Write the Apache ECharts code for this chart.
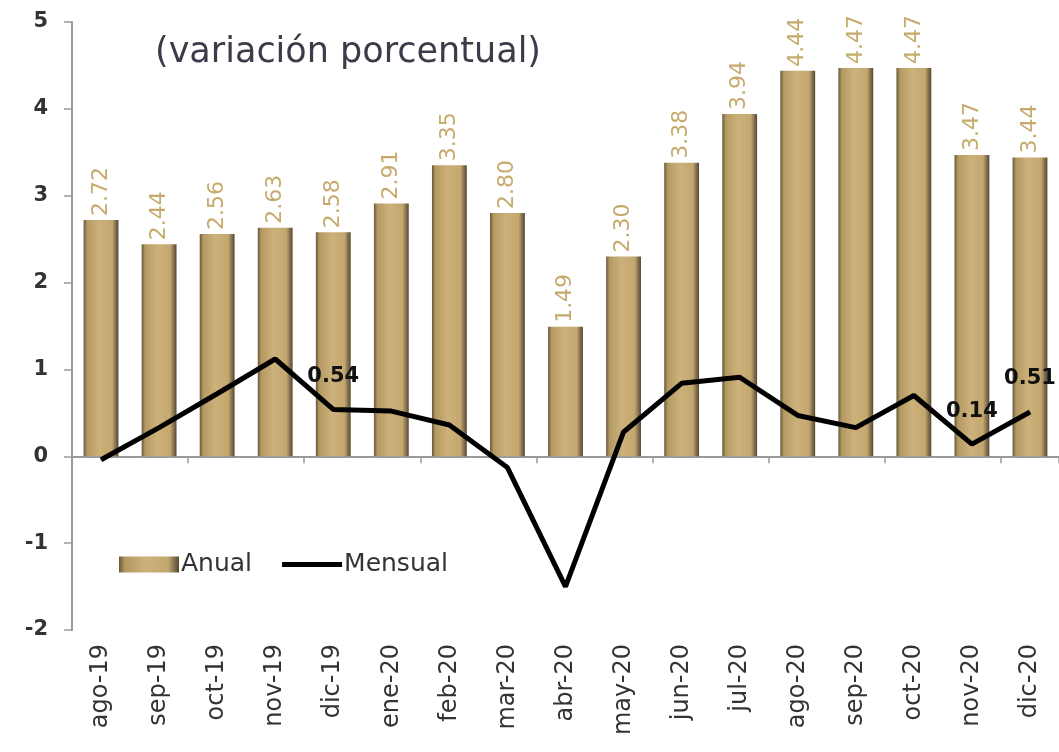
<!DOCTYPE html>
<html>
<head>
<meta charset="utf-8">
<script src="https://cdn.jsdelivr.net/npm/echarts@6/dist/echarts.min.js"></script>
<style>html,body{margin:0;padding:0;background:#fff;}#c{width:1059px;height:752px;}</style>
</head>
<body>
<div id="c"></div>
<script>
const categories = ['ago-19','sep-19','oct-19','nov-19','dic-19','ene-20','feb-20','mar-20','abr-20','may-20','jun-20','jul-20','ago-20','sep-20','oct-20','nov-20','dic-20'];
const anual = [2.72,2.44,2.56,2.63,2.58,2.91,3.35,2.80,1.49,2.30,3.38,3.94,4.44,4.47,4.47,3.47,3.44];
const mensual = [-0.04,0.33,0.72,1.12,0.54,0.52,0.36,-0.13,-1.50,0.28,0.84,0.91,0.47,0.33,0.70,0.14,0.51];
const mensualLabeled = ['dic-19','nov-20','dic-20'];
const yTicks = [-2,-1,0,1,2,3,4,5];
const titleText = '(variación porcentual)';

const FONT = 'DejaVu Sans';
const chart = echarts.init(document.getElementById('c'));
const barGrad = new echarts.graphic.LinearGradient(0,0,1,0,[
  {offset:0,color:'#67583a'},{offset:0.1,color:'#b49963'},{offset:0.45,color:'#cdb17a'},
  {offset:0.82,color:'#c3a76f'},{offset:0.92,color:'#857150'},{offset:1,color:'#54472f'}]);
chart.setOption({
  animation:false,
  backgroundColor:'#fff',
  textStyle:{fontFamily:FONT},
  title:{text:titleText,left:150,top:30,textStyle:{fontFamily:FONT,fontSize:35,fontWeight:'normal',color:'#3b3b4a'}},
  legend:{left:114,top:547,itemGap:30,itemWidth:60,itemHeight:16,
    textStyle:{fontFamily:FONT,fontSize:25,color:'#333',padding:[0,0,0,-3]},
    data:[{name:'Anual',icon:'rect'},{name:'Mensual',icon:'path://M0,0 L60,0 L60,5 L0,5 Z',itemStyle:{color:'#000'}}]},
  grid:{left:72,right:-12,top:22,bottom:122,containLabel:false},
  xAxis:[{type:'category',data:categories,position:'bottom',axisLine:{show:false,onZero:false},axisTick:{show:false},
      axisLabel:{rotate:90,margin:14,fontFamily:FONT,fontSize:24,color:'#333'}},
    {type:'category',data:categories,position:'bottom',axisLine:{onZero:true,lineStyle:{color:'#999',width:2}},
      axisTick:{show:true,inside:false,length:7,lineStyle:{color:'#999',width:1.5}},axisLabel:{show:false}}],
  yAxis:{type:'value',min:yTicks[0],max:yTicks[yTicks.length-1],interval:1,splitLine:{show:false},
    axisLine:{show:true,lineStyle:{color:'#999',width:2}},axisTick:{show:true,length:8,lineStyle:{color:'#999',width:1.5}},
    axisLabel:{fontFamily:FONT,fontSize:21,fontWeight:'bold',color:'#333',margin:24}},
  series:[
    {name:'Anual',type:'bar',data:anual,barWidth:'60%',itemStyle:{color:barGrad},
      label:{show:true,position:'top',rotate:90,align:'left',verticalAlign:'middle',distance:4,
        formatter:p=>p.value.toFixed(2),fontFamily:FONT,fontSize:22,color:'#c6aa6b'}},
    {name:'Mensual',type:'line',data:mensual.map((v,i)=>({value:v,label:{show:mensualLabeled.includes(categories[i])}})),
      symbol:'circle',symbolSize:1,showSymbol:true,lineStyle:{color:'#000',width:5},itemStyle:{color:'#000'},
      label:{show:false,position:'top',distance:22,formatter:p=>p.value.toFixed(2),fontFamily:FONT,fontSize:21,fontWeight:'bold',color:'#111'}}
  ]
});
</script>
</body>
</html>
